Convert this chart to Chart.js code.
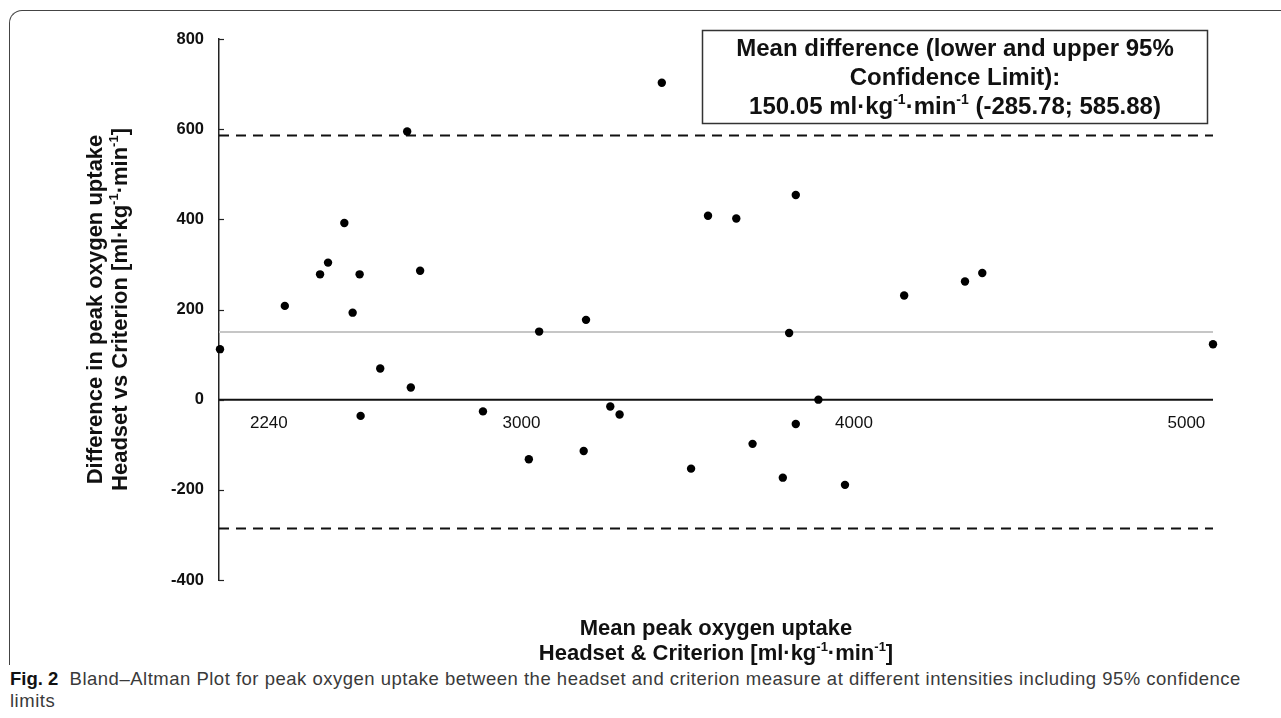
<!DOCTYPE html>
<html>
<head>
<meta charset="utf-8">
<script src="https://cdn.jsdelivr.net/npm/chart.js@4.4.1/dist/chart.umd.min.js"></script>
<style>
  body { margin: 0; background: #fff; }
  #wrap { position: relative; width: 1281px; height: 718px; overflow: hidden; }
  #frame { position: absolute; left: 9px; top: 10px; width: 1300px; height: 654px;
           border-left: 1.5px solid #444; border-top: 1.5px solid #444; border-top-left-radius: 13px; }
  #plot { position: absolute; left: 0; top: 0; }
  #caption { position: absolute; left: 10px; top: 668px; font: 18.5px "Liberation Sans", Arial, sans-serif;
             letter-spacing: 0.5px; line-height: 22px; color: #3a3a3a; white-space: nowrap; }
  #caption b { color: #111; letter-spacing: 0; }
</style>
</head>
<body>
<div id="wrap">
  <div id="frame"></div>
  <canvas id="plot" width="1281" height="665"></canvas>
  <div id="caption"><b>Fig. 2</b>&nbsp; Bland–Altman Plot for peak oxygen uptake between the headset and criterion measure at different intensities including 95% confidence<br>limits</div>
</div>
<script>
// mean of headset & criterion (x) and their difference (y)
const meanUptake = [2093, 2288, 2394, 2418, 2467, 2492, 2513, 2516, 2575, 2656, 2667, 2695,
  2884, 3022, 3053, 3187, 3194, 3267, 3295, 3422, 3510, 3561, 3646, 3695, 3786, 3805,
  3825, 3825, 3893, 3973, 4151, 4334, 4386, 5080];
const diffUptake = [112, 208, 278, 304, 392, 193, 278, -36, 69, 595, 27, 286,
  -26, -132, 151, -114, 177, -15, -33, 703, -153, 408, 402, -98, -173, 148,
  454, -54, 0, -189, 231, 262, 281, 123];

const meanDiff = 150.05;
const lowerLimit = -285.78;
const upperLimit = 585.88;

const xRange = [2090, 5080];
const yRange = [-400, 800];
const yStep = 200;
const xTickLabels = [2240, 3000, 4000, 5000];

const yTitle = ["Difference in peak oxygen uptake", "Headset vs Criterion [ml·kg^{-1}·min^{-1}]"];
const xTitle = ["Mean peak oxygen uptake", "Headset & Criterion [ml·kg^{-1}·min^{-1}]"];
const boxText = ["Mean difference (lower and upper 95%", "Confidence Limit):",
  "150.05 ml·kg^{-1}·min^{-1} (-285.78; 585.88)"];

const ARIAL = '"Liberation Sans", Arial, sans-serif';

function hline(y, color, dash) {
  return {
    data: [{ x: xRange[0], y: y }, { x: xRange[1], y: y }],
    showLine: true, borderColor: color, borderWidth: 2, borderDash: dash || [],
    pointRadius: 0, pointHoverRadius: 0
  };
}

// text with ^{..} superscripts, centred on x
function drawRich(ctx, str, x, y, size) {
  const parts = str.split(/(\^\{[^}]*\})/).filter(s => s.length).map(s =>
    s.startsWith("^{") ? [s.slice(2, -1), true] : [s, false]);
  const font = sup => `bold ${sup ? Math.round(size * 0.6) : size}px ${ARIAL}`;
  let w = 0;
  parts.forEach(([t, sup]) => { ctx.font = font(sup); w += ctx.measureText(t).width; });
  let cx = x - w / 2;
  ctx.textAlign = "left";
  ctx.textBaseline = "alphabetic";
  parts.forEach(([t, sup]) => {
    ctx.font = font(sup);
    ctx.fillText(t, cx, sup ? y - size * 0.4 : y);
    cx += ctx.measureText(t).width;
  });
}

const decor = {
  id: "decor",
  afterDraw(chart) {
    const ctx = chart.ctx;
    const xs = chart.scales.x, ys = chart.scales.y;
    const area = chart.chartArea;
    ctx.save();
    ctx.fillStyle = "#111";
    ctx.strokeStyle = "#222";

    // small inward tick marks on the y axis
    ctx.lineWidth = 1.2;
    ys.ticks.forEach(t => {
      const py = Math.round(ys.getPixelForValue(t.value)) + 0.5;
      ctx.beginPath();
      ctx.moveTo(area.left, py);
      ctx.lineTo(area.left + 5, py);
      ctx.stroke();
    });

    // x labels just below the zero line
    ctx.font = `17px "Liberation Sans Narrow", ${ARIAL}`;
    ctx.textAlign = "center";
    ctx.textBaseline = "middle";
    const y0 = ys.getPixelForValue(0);
    xTickLabels.forEach(v => ctx.fillText(String(v), xs.getPixelForValue(v), y0 + 24));

    // y title, rotated
    const yc = (area.top + area.bottom) / 2;
    yTitle.forEach((line, i) => {
      ctx.save();
      ctx.translate(102 + i * 25, yc);
      ctx.rotate(-Math.PI / 2);
      drawRich(ctx, line, 0, 0, 22);
      ctx.restore();
    });

    // x title
    const xc = (area.left + area.right) / 2;
    xTitle.forEach((line, i) => drawRich(ctx, line, xc, 635 + i * 25, 22));

    // annotation box
    ctx.lineWidth = 1.5;
    ctx.strokeStyle = "#333";
    ctx.strokeRect(702.5, 30.5, 505, 93);
    boxText.forEach((line, i) => drawRich(ctx, line, 955, 56 + i * 29, 24));
    ctx.restore();
  }
};

new Chart(document.getElementById("plot"), {
  type: "scatter",
  data: {
    datasets: [
      {
        data: meanUptake.map((x, i) => ({ x: x, y: diffUptake[i] })),
        pointRadius: 4.2, pointHoverRadius: 4.2, backgroundColor: "#000",
        borderWidth: 0, clip: false
      },
      hline(0, "#111"),
      hline(meanDiff, "#c6c6c6"),
      hline(upperLimit, "#111", [10, 7]),
      hline(lowerLimit, "#111", [10, 7])
    ]
  },
  options: {
    responsive: false,
    animation: false,
    layout: { padding: { left: 0, right: 68, top: 39, bottom: 85 } },
    plugins: { legend: { display: false }, tooltip: { enabled: false } },
    scales: {
      x: { type: "linear", min: xRange[0], max: xRange[1], display: false },
      y: {
        min: yRange[0], max: yRange[1],
        ticks: { stepSize: yStep, padding: 15, color: "#111",
                 font: { family: ARIAL, size: 16.5, weight: "bold" } },
        grid: { display: false, drawTicks: false },
        border: { display: true, color: "#222", width: 1.5 },
        afterFit(scale) { scale.width = 219; }
      }
    }
  },
  plugins: [decor]
});
</script>
</body>
</html>
